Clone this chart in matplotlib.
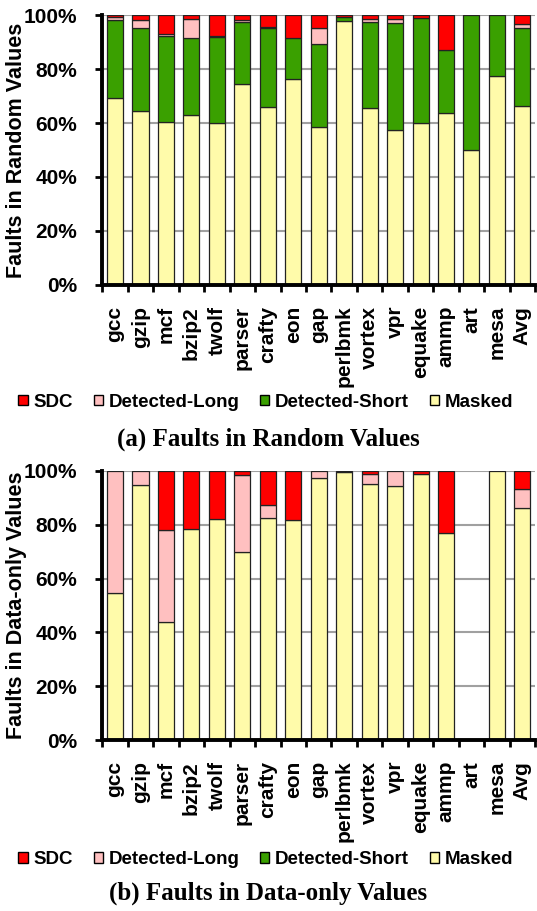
import numpy as np
import matplotlib.pyplot as plt
from matplotlib.patches import Rectangle

benchmarks = ['gcc', 'gzip', 'mcf', 'bzip2', 'twolf', 'parser', 'crafty', 'eon', 'gap',
              'perlbmk', 'vortex', 'vpr', 'equake', 'ammp', 'art', 'mesa', 'Avg']

# (a) faults in random values, percent
rand_masked = [69.1, 64.4, 60.4, 62.8, 60.0, 74.4, 65.9, 76.4, 58.6,
               97.9, 65.7, 57.4, 59.9, 63.7, 50.0, 77.4, 66.4]
rand_short = [29.0, 30.7, 31.8, 28.8, 32.0, 23.1, 29.2, 15.2, 30.5,
              1.5, 31.8, 39.5, 39.1, 23.3, 50.0, 22.6, 28.7]
rand_long = [1.3, 3.0, 0.6, 6.9, 0.2, 0.8, 0.4, 0.0, 6.0,
             0.0, 1.0, 1.6, 0.0, 0.0, 0.0, 0.0, 1.6]
rand_sdc = [0.6, 1.9, 7.2, 1.5, 7.8, 1.7, 4.5, 8.4, 4.9,
            0.6, 1.5, 1.5, 1.0, 13.0, 0.0, 0.0, 3.3]

# (b) faults in data-only values, percent
data_masked = [54.8, 94.7, 44.0, 78.3, 82.3, 70.0, 82.7, 81.8, 97.3,
               99.5, 95.0, 94.5, 98.8, 77.1, 0.0, 100.0, 86.4]
data_short = [0.0] * 17
data_long = [45.2, 5.3, 34.1, 0.0, 0.0, 28.4, 4.7, 0.0, 2.7,
             0.5, 3.8, 5.5, 0.0, 0.0, 0.0, 0.0, 6.9]
data_sdc = [0.0, 0.0, 21.9, 21.7, 17.7, 1.6, 12.6, 18.2, 0.0,
            0.0, 1.2, 0.0, 1.2, 22.9, 0.0, 0.0, 6.7]

labels = ['SDC', 'Detected-Long', 'Detected-Short', 'Masked']
colors = {'SDC': '#ff0000', 'Detected-Long': '#ffc0c0',
          'Detected-Short': '#3aa000', 'Masked': '#fffbaa'}

sans = ['Liberation Sans', 'DejaVu Sans']
serif = ['Liberation Serif', 'DejaVu Serif']

fig = plt.figure(figsize=(5.37, 9.11), dpi=100)


def panel(rect, masked, short, long_, sdc, ylabel):
    ax = fig.add_axes(rect)
    x = np.arange(len(benchmarks))
    bottom = np.zeros(len(benchmarks))
    for name, vals in [('Masked', masked), ('Detected-Short', short),
                       ('Detected-Long', long_), ('SDC', sdc)]:
        vals = np.array(vals)
        nz = vals > 0
        ax.bar(x[nz], vals[nz], 0.63, bottom=bottom[nz], color=colors[name],
               edgecolor='#222222', linewidth=0.9, zorder=3)
        bottom += vals
    ax.set_xlim(-0.5, len(benchmarks) - 0.5)
    ax.set_ylim(0, 100)
    ax.set_yticks([0, 20, 40, 60, 80, 100])
    ax.set_yticklabels(['0%', '20%', '40%', '60%', '80%', '100%'],
                       fontsize=15, fontweight='bold', family=sans)
    ax.set_xticks(np.arange(len(benchmarks) + 1) - 0.5)
    ax.set_xticklabels([])
    ax.set_xticks(x, minor=True)
    ax.set_xticklabels(benchmarks, minor=True, rotation=90, fontsize=15,
                       fontweight='bold', family=sans)
    ax.tick_params(axis='x', which='minor', length=0, pad=15)
    ax.tick_params(axis='both', which='major', length=5, width=2, direction='out')
    ax.tick_params(axis='y', pad=13)
    ax.grid(axis='y', color='#a0a0a0', linewidth=1.5, zorder=0)
    for s in ['top', 'right']:
        ax.spines[s].set_visible(False)
    ax.spines['left'].set_linewidth(2.8)
    ax.spines['bottom'].set_linewidth(2.8)
    ax.spines['left'].set_zorder(4)
    ax.spines['bottom'].set_zorder(4)
    ax.set_ylabel(ylabel, fontsize=15.5, fontweight='bold', family=sans)
    ax.yaxis.set_label_coords(-0.174, 0.5)
    return ax


panel([0.1905, 0.6872, 0.806, 0.2963], rand_masked, rand_short, rand_long, rand_sdc,
      'Faults in Random Values')
panel([0.1905, 0.1877, 0.806, 0.2953], data_masked, data_short, data_long, data_sdc,
      'Faults in Data-only Values')

handles = [Rectangle((0, 0), 1, 1, facecolor=colors[l], edgecolor='black', linewidth=1)
           for l in labels]
for ly in [0.5587, 0.056]:
    fig.legend(handles, labels, loc='center', bbox_to_anchor=(0.495, ly), ncol=4,
               frameon=False, handlelength=0.5, handleheight=0.5, handletextpad=0.3,
               columnspacing=1.1, prop={'family': sans, 'weight': 'bold', 'size': 13.5})

fig.text(0.5, 0.518, '(a) Faults in Random Values', ha='center', va='center',
         fontsize=18, fontweight='bold', family=serif)
fig.text(0.5, 0.0198, '(b) Faults in Data-only Values', ha='center', va='center',
         fontsize=18, fontweight='bold', family=serif)

fig.savefig('out.png', dpi=100)
